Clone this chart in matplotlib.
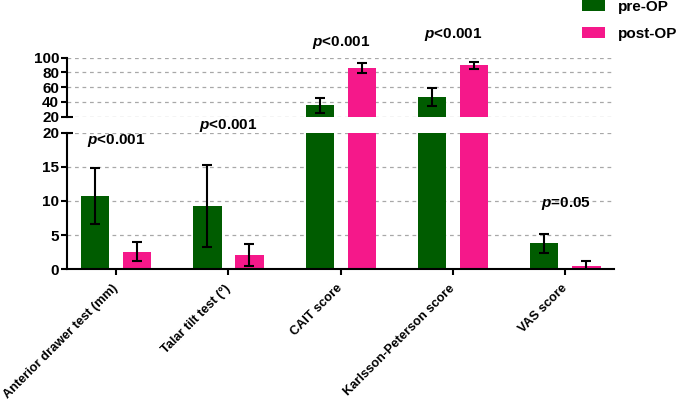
import matplotlib.pyplot as plt
import numpy as np

plt.rcParams['font.family'] = ['Liberation Sans', 'DejaVu Sans']
plt.rcParams['font.weight'] = 'bold'
plt.rcParams['mathtext.fontset'] = 'custom'
plt.rcParams['mathtext.it'] = 'Liberation Sans:bold:italic'
plt.rcParams['mathtext.rm'] = 'Liberation Sans:bold'

# data
categories = ["Anterior drawer test (mm)", "Talar tilt test (\u00b0)", "CAIT score",
              "Karlsson-Peterson score", "VAS score"]
pre_op = [10.7, 9.3, 35.5, 46.5, 3.8]
pre_err = [4.1, 6.0, 10.5, 12.2, 1.4]
post_op = [2.6, 2.1, 86.5, 89.5, 0.45]
post_err = [1.35, 1.6, 6.8, 4.5, 0.75]
p_labels = ["$p$<0.001", "$p$<0.001", "$p$<0.001", "$p$<0.001", "$p$=0.05"]
p_y = [18.9, 21.1, 121.3, 130.8, 9.7]  # label heights (bottom panel, or top for the scores)
p_panel = ["low", "low", "high", "high", "low"]

green = '#005C00'
pink = '#F5188A'

fig = plt.figure(figsize=(6.85, 4.03), dpi=100)
ax_hi = fig.add_axes([0.0974, 0.7104, 0.7986, 0.1464])
ax_lo = fig.add_axes([0.0974, 0.3318, 0.7986, 0.3389])

x = np.arange(len(categories))
w = 0.25
off = 0.187

for ax in (ax_hi, ax_lo):
    ax.bar(x - off, pre_op, w, color=green, label='pre-OP', zorder=2)
    ax.bar(x + off, post_op, w, color=pink, label='post-OP', zorder=2)
    ax.errorbar(x - off, pre_op, yerr=pre_err, fmt='none', ecolor='black',
                elinewidth=1.5, capsize=3.8, capthick=1.5, zorder=3)
    ax.errorbar(x + off, post_op, yerr=post_err, fmt='none', ecolor='black',
                elinewidth=1.5, capsize=3.8, capthick=1.5, zorder=3)
    ax.set_xlim(-0.44, 4.43)
    ax.yaxis.grid(True, color='#A8A8A8', linestyle=(0, (3, 3)), linewidth=0.9)
    ax.set_axisbelow(True)
    for s in ('top', 'right'):
        ax.spines[s].set_visible(False)
    ax.spines['left'].set_linewidth(1.5)
    ax.spines['bottom'].set_linewidth(1.5)
    ax.tick_params(axis='y', length=4.5, width=1.5, labelsize=11, pad=1)

ax_hi.set_ylim(20, 100)
ax_hi.set_yticks([20, 40, 60, 80, 100])
ax_hi.spines['bottom'].set_visible(False)
ax_hi.set_xticks([])
ax_hi.plot([0, 0.012], [0, 0], transform=ax_hi.transAxes, color='black',
           lw=1.5, clip_on=False, solid_capstyle='butt')

ax_lo.set_ylim(0, 20)
ax_lo.set_yticks([0, 5, 10, 15, 20])
ax_lo.plot([0, 0.012], [1, 1], transform=ax_lo.transAxes, color='black',
           lw=1.5, clip_on=False, solid_capstyle='butt')
ax_lo.set_xticks(x)
ax_lo.set_xticklabels(categories, rotation=45, ha='right', va='center',
                      rotation_mode='anchor', fontsize=9.2)
ax_lo.tick_params(axis='x', length=4.5, width=1.5, pad=8)

for i, lab in enumerate(p_labels):
    ax = ax_hi if p_panel[i] == "high" else ax_lo
    ax.text(x[i], p_y[i], lab, ha='center', va='center', fontsize=11,
            fontweight='bold', clip_on=False)

handles, labels = ax_lo.get_legend_handles_labels()
fig.legend(handles, labels, loc='upper left', bbox_to_anchor=(0.849, 1.0),
           frameon=False, fontsize=11, handlelength=1.55, handleheight=0.75,
           labelspacing=0.85, handletextpad=0.8, borderpad=0.0,
           borderaxespad=0.0)

fig.savefig('out.png', dpi=100)
